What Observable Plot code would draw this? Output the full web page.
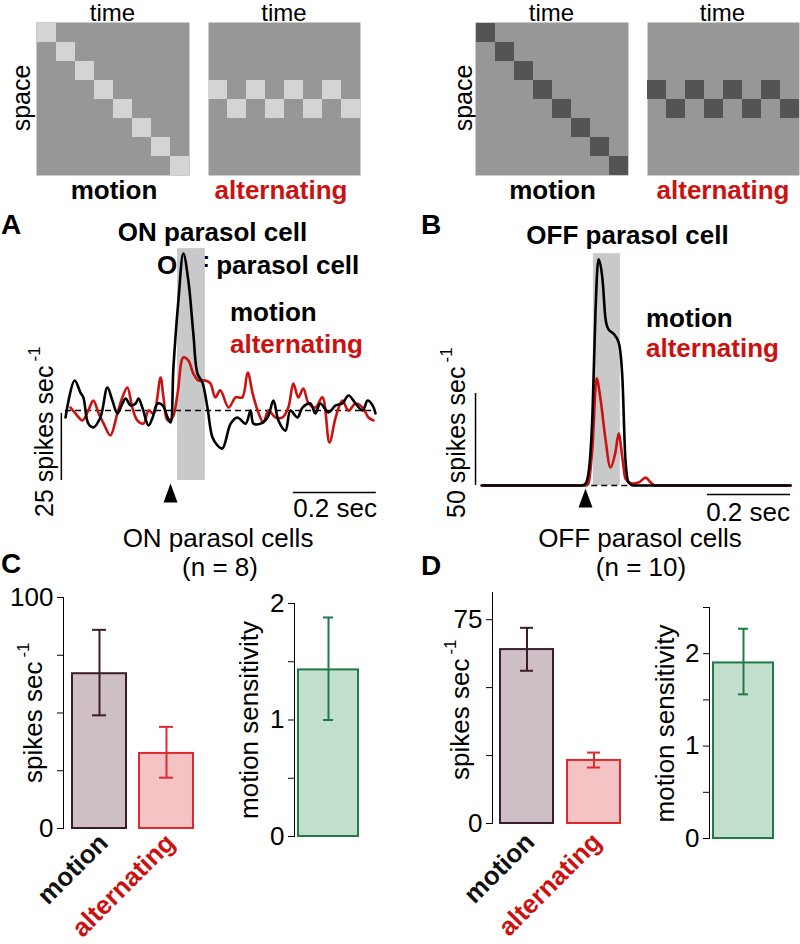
<!DOCTYPE html>
<html><head><meta charset="utf-8">
<script src="https://cdn.jsdelivr.net/npm/d3@7"></script>
<script src="https://cdn.jsdelivr.net/npm/@observablehq/plot@0.6"></script>
<style>
body{margin:0;background:#fff;}
#fig{position:relative;width:800px;height:944px;overflow:hidden;font-family:"Liberation Sans",Arial,sans-serif;}
#fig > svg{position:absolute;}
</style></head><body><div id="fig"></div>
<script>
// ---------------- data ----------------
const gridSteps = [0,1,2,3,4,5,6,7];
const motionPositions = [0,1,2,3,4,5,6,7];
const alternatingPositions = [3,4,3,4,3,4,3,4];

// Panel A (ON parasol cell), time (s) and rate relative to baseline (spikes/s)
const aMotionT = [-0.253,-0.231,-0.217,-0.210,-0.198,-0.186,-0.169,-0.152,-0.140,-0.128,-0.116,-0.108,-0.096,-0.084,-0.077,-0.067,-0.053,-0.043,-0.031,-0.019,-0.007,0,0.007,0.019,0.031,0.043,0.055,0.065,0.077,0.089,0.101,0.113,0.125,0.145,0.161,0.181,0.193,0.200,0.217,0.234,0.248,0.260,0.277,0.289,0.306,0.318,0.337,0.349,0.361,0.381,0.398,0.414,0.429,0.446,0.463,0.475,0.487,0.494];
const aMotionRate = [-2.6,11.2,6.7,4.9,-4.9,-6.3,-2.6,8.6,3.7,-1.1,2.6,4.5,1.9,2.6,4.5,0.7,-5.6,-2.6,2.6,1.9,-2.6,-4.5,16,41,58.6,48.5,28.7,13.8,10.4,1.1,-10,-13,-14.2,-4.9,-2.6,-4.9,0,-4.9,-4.9,-2.6,3.7,-3.7,-7.5,0,-2.6,1.1,2.6,-1.1,2.6,-0.7,1.9,2.6,5.6,2.6,0,3.7,1.9,-1.1];
const aAltT = [-0.241,-0.229,-0.212,-0.198,-0.186,-0.173,-0.161,-0.145,-0.128,-0.116,-0.104,-0.092,-0.080,-0.065,-0.053,-0.041,-0.024,-0.017,-0.007,0.005,0.017,0.031,0.043,0.055,0.067,0.084,0.096,0.108,0.120,0.140,0.157,0.173,0.186,0.198,0.210,0.224,0.236,0.253,0.270,0.284,0.296,0.308,0.320,0.333,0.349,0.366,0.383,0.398,0.414,0.429,0.446,0.463,0.477,0.489];
const aAltRate = [1.1,-1.1,-3.7,0,3.7,-1.1,-4.9,-9.3,-1.1,4.9,8.6,1.1,-3.7,-4.9,0,-1.1,12.3,4.9,-3.7,-2.6,6.3,19.8,18.7,13.8,11.2,11.2,10.1,4.9,7.5,1.1,4.9,4.9,14.2,6.3,0,-4.5,0,-2.6,-2.6,1.1,10.1,4.9,8.2,2.6,1.1,4.9,-11.9,-2.6,3.7,0,2.6,1.1,-2.6,-3.7];

// Panel B (OFF parasol cell)
const bMotionT = [-0.25,-0.01,0,0.008,0.017,0.024,0.031,0.041,0.048,0.055,0.067,0.080,0.089,0.096,0.104,0.116,0.2,0.494];
const bMotionRate = [0,0,1,8,40,94,123,112,91,85,82.6,77.7,58,14.7,1.6,0,0,0];
const bAltT = [-0.25,0,0.007,0.017,0.0265,0.036,0.048,0.060,0.072,0.080,0.089,0.096,0.113,0.128,0.145,0.157,0.169,0.494];
const bAltRate = [0,0,1,21.7,58.2,47.3,25.5,9.8,17.9,28.3,14.7,3.8,1.1,1.6,4.3,1.6,0,0];

// stimulus windows (s) and shading extent (spikes/s)
const stimWindowA = [{start: 0.017, end: 0.084, lo: -26.1, hi: 60.4}];
const stimWindowB = [{start: 0.019, end: 0.084, lo: 0, hi: 126}];
// scale bars
const scaleA = {vT: -0.263, v1: -1.1, v2: -26.1, hY: -30.6, h1: 0.296, h2: 0.496, triY: -30.8};
const scaleB = {vT: -0.265, v1: 0, v2: 50, hY: -4.9, h1: 0.294, h2: 0.494, triY: -6.8};

// Bar charts
const categories = ["motion", "alternating"];
const onMean = [67, 32.5], onLo = [49, 22], onHi = [86, 44];
const offMean = [64, 23.2], offLo = [56.2, 20.6], offHi = [72, 26.1];
const onSens = [1.43], onSensLo = [1.0], onSensHi = [1.88];
const offSens = [1.90], offSensLo = [1.56], offSensHi = [2.27];

// colours
const RED = "#cc1111";
const catFill = ["#cdbfc5", "#f5c3c3"];
const catStroke = ["#3d1c2a", "#e0282e"];
const catLabel = ["#111111", RED];
const sensFill = "#c3dfce", sensStroke = "#1e7b45";

// ---------------- helpers ----------------
const fig = document.getElementById("fig");
const FONT = "Liberation Sans, Arial, sans-serif";
const baseStyle = {background: "transparent", overflow: "visible", fontFamily: FONT, fontSize: "26px", color: "#000"};
function place(svg, left, top, z = 1) {
  svg.style.position = "absolute";
  svg.style.left = left + "px";
  svg.style.top = top + "px";
  svg.style.zIndex = z;
  fig.append(svg);
}

// text layer (beneath the plots)
const tl = d3.select(fig).append("svg")
  .attr("width", 800).attr("height", 944)
  .style("position", "absolute").style("left", "0px").style("top", "0px").style("z-index", 0)
  .attr("font-family", FONT);
function txt(s, x, y, {size = 26, weight = "normal", fill = "#000", anchor = "start", rot = 0, sup = null} = {}) {
  const t = tl.append("text")
    .attr("transform", `translate(${x},${y}) rotate(${rot})`)
    .attr("font-size", size).attr("font-weight", weight).attr("fill", fill)
    .attr("text-anchor", anchor).text(s);
  if (sup) t.append("tspan").attr("font-size", 17).attr("dx", 4).attr("dy", -13).text(sup);
  return t;
}

// top stimulus labels
[[112.5, 21], [284, 21], [551.5, 21], [722.5, 21]].forEach(([x, y]) => txt("time", x, y, {size: 24, anchor: "middle"}));
txt("space", 30, 98, {size: 25, anchor: "middle", rot: -90});
txt("space", 472, 98, {size: 25, anchor: "middle", rot: -90});
txt("motion", 114, 199, {weight: "bold", anchor: "middle"});
txt("alternating", 281, 199, {weight: "bold", anchor: "middle", fill: RED});
txt("motion", 552.5, 199, {weight: "bold", anchor: "middle"});
txt("alternating", 723, 199, {weight: "bold", anchor: "middle", fill: RED});

// panel A / B labels
txt("A", 1, 234, {size: 28, weight: "bold"});
txt("B", 421, 234, {size: 28, weight: "bold"});
txt("ON parasol cell", 212.5, 241, {weight: "bold", anchor: "middle"});
txt("OFF parasol cell", 157, 274, {weight: "bold"});
txt("OFF parasol cell", 627.5, 244, {weight: "bold", anchor: "middle"});
txt("motion", 230, 321, {weight: "bold"});
txt("alternating", 230, 353, {weight: "bold", fill: RED});
txt("motion", 646, 327, {weight: "bold"});
txt("alternating", 646, 357, {weight: "bold", fill: RED});
txt("25 spikes sec", 53, 517, {size: 25, rot: -90, sup: "-1"});
txt("50 spikes sec", 465, 518, {size: 25, rot: -90, sup: "-1"});
txt("0.2 sec", 377, 517, {anchor: "end"});
txt("0.2 sec", 790, 521, {anchor: "end"});
txt("ON parasol cells", 218, 547, {anchor: "middle"});
txt("(n = 8)", 220, 576, {anchor: "middle"});
txt("OFF parasol cells", 640, 547, {anchor: "middle"});
txt("(n = 10)", 641, 576, {anchor: "middle"});

// panel C / D labels
txt("C", 1, 573, {size: 28, weight: "bold"});
txt("D", 421, 575, {size: 28, weight: "bold"});
txt("spikes sec", 42, 783, {size: 26, rot: -90, sup: "-1"});
txt("spikes sec", 469, 780, {size: 26, rot: -90, sup: "-1"});
txt("motion sensitivity", 258, 720, {size: 26, rot: -90, anchor: "middle"});
txt("motion sensitivity", 674, 723.5, {size: 26, rot: -90, anchor: "middle"});

// ---------------- stimulus diagrams ----------------
function stimulus(positions, color, w) {
  const data = gridSteps.map((t, i) => ({t, s: positions[i]}));
  return Plot.plot({
    width: w, height: 153, margin: 0,
    x: {type: "band", domain: gridSteps, padding: 0, axis: null},
    y: {type: "band", domain: gridSteps, padding: 0, axis: null},
    style: baseStyle,
    marks: [
      Plot.frame({fill: "#979797", stroke: "none"}),
      Plot.cell(data, {x: "t", y: "s", fill: color, inset: 0})
    ]
  });
}
place(stimulus(motionPositions, "#d4d4d4", 153), 36, 22);
place(stimulus(alternatingPositions, "#d4d4d4", 152), 208, 22);
place(stimulus(motionPositions, "#545454", 153), 475, 22);
place(stimulus(alternatingPositions, "#545454", 152), 647, 22);

// ---------------- traces ----------------
const tallTriangle = {
  draw(ctx, size) {
    const r = Math.sqrt(size / Math.PI);
    ctx.moveTo(0, -1.35 * r);
    ctx.lineTo(r, 1.35 * r);
    ctx.lineTo(-r, 1.35 * r);
    ctx.closePath();
  }
};
function tracePlot({mT, mR, aT, aR, stim, sc, yDomain, ml, mr, mt, mb, curve}) {
  const motion = mT.map((t, i) => ({t, r: mR[i]}));
  const alt = aT.map((t, i) => ({t, r: aR[i]}));
  return Plot.plot({
    width: 400, height: 280, marginLeft: ml, marginRight: mr, marginTop: mt, marginBottom: mb,
    x: {domain: [-0.27, 0.5], axis: null},
    y: {domain: yDomain, axis: null},
    style: baseStyle,
    marks: [
      Plot.rect(stim, {x1: "start", x2: "end", y1: "lo", y2: "hi", fill: "#c9c9c9"}),
      Plot.ruleY([0], {x1: mT[0], x2: mT[mT.length - 1], stroke: "#000", strokeWidth: 1.3, strokeDasharray: "6,4"}),
      Plot.line(alt, {x: "t", y: "r", stroke: RED, strokeWidth: 2.6, curve}),
      Plot.line(motion, {x: "t", y: "r", stroke: "#000", strokeWidth: 2.6, curve}),
      Plot.ruleX([sc.vT], {y1: sc.v1, y2: sc.v2, stroke: "#000", strokeWidth: 1.5}),
      Plot.ruleY([sc.hY], {x1: sc.h1, x2: sc.h2, stroke: "#000", strokeWidth: 1.5}),
      Plot.dot([0], {x: d => d, y: sc.triY, r: 7, symbol: tallTriangle, fill: "#000", stroke: "none"})
    ]
  });
}
place(tracePlot({mT: aMotionT, mR: aMotionRate, aT: aAltT, aR: aAltRate, stim: stimWindowA, sc: scaleA,
  yDomain: [-35, 60], ml: 57.95, mr: 22.5, mt: 9.2, mb: 16.2, curve: "catmull-rom"}), 0, 240);
place(tracePlot({mT: bMotionT, mR: bMotionRate, aT: bAltT, aR: bAltRate, stim: stimWindowB, sc: scaleB,
  yDomain: [-15, 130], ml: 72.95, mr: 7.5, mt: 5.8, mb: 7.4, curve: "monotone-x"}), 400, 240);

// ---------------- bar charts ----------------
function barPlot({cats, mean, lo, hi, fills, strokes, labels, width, ml, mr, mt, mb, yDomain, ticks, labelled,
                  pIn = 0.1, pOut = 0, barInset = 0, capInset, labelDx = 3, labelDy = 15}) {
  const data = cats.map((c, i) => ({c, m: mean[i], lo: lo[i], hi: hi[i], f: fills[i], s: strokes[i], lc: labels ? labels[i] : null}));
  const marks = [
    Plot.barY(data, {x: "c", y: "m", fill: "f", stroke: "s", strokeWidth: 2, insetLeft: barInset, insetRight: barInset}),
    Plot.ruleX(data, {x: "c", y1: "lo", y2: "hi", stroke: "s", strokeWidth: 2}),
    Plot.tickY(data, {x: "c", y: "lo", stroke: "s", strokeWidth: 2, insetLeft: capInset, insetRight: capInset}),
    Plot.tickY(data, {x: "c", y: "hi", stroke: "s", strokeWidth: 2, insetLeft: capInset, insetRight: capInset})
  ];
  if (labels) marks.push(Plot.text(data, {x: "c", y: 0, text: "c", fill: "lc", rotate: -45, textAnchor: "end",
    lineAnchor: "middle", dx: labelDx, dy: labelDy, fontWeight: "bold", fontSize: 26}));
  return Plot.plot({
    width, height: 300, marginLeft: ml, marginRight: mr, marginTop: mt, marginBottom: mb,
    x: {type: "band", domain: cats, paddingInner: pIn, paddingOuter: pOut, axis: null},
    y: {domain: yDomain, ticks, tickFormat: d => labelled.includes(d) ? String(d) : "", tickSize: 6, tickPadding: 4, line: true, label: null},
    color: {type: "identity"},
    style: baseStyle,
    marks
  });
}
place(barPlot({cats: categories, mean: onMean, lo: onLo, hi: onHi, fills: catFill, strokes: catStroke, labels: catLabel,
  width: 210, ml: 63, mr: 8, mt: 37, mb: 32, yDomain: [0, 100], ticks: [0, 25, 50, 75, 100], labelled: [0, 100],
  pIn: 0.194, pOut: 0.134, capInset: 20, labelDx: 4, labelDy: 10}), 0, 560);
place(barPlot({cats: ["motion sensitivity"], mean: onSens, lo: onSensLo, hi: onSensHi, fills: [sensFill], strokes: [sensStroke],
  width: 140, ml: 64, mr: 8, mt: 43, mb: 24, yDomain: [0, 2], ticks: [0, 0.5, 1, 1.5, 2], labelled: [0, 1, 2],
  pIn: 0, pOut: 0, barInset: 4, capInset: 29}), 230, 560);
place(barPlot({cats: categories, mean: offMean, lo: offLo, hi: offHi, fills: catFill, strokes: catStroke, labels: catLabel,
  width: 240, ml: 92, mr: 11, mt: 32, mb: 37, yDomain: [0, 85], ticks: [0, 25, 50, 75], labelled: [0, 75],
  pIn: 0.207, pOut: 0.119, capInset: 20, labelDx: 3, labelDy: 14}), 400, 560);
place(barPlot({cats: ["motion sensitivity"], mean: offSens, lo: offSensLo, hi: offSensHi, fills: [sensFill], strokes: [sensStroke],
  width: 160, ml: 69, mr: 23, mt: 47, mb: 22, yDomain: [0, 2.5], ticks: [0, 0.5, 1, 1.5, 2, 2.5], labelled: [0, 1, 2],
  pIn: 0, pOut: 0, barInset: 4, capInset: 29}), 640, 560);
</script></body></html>
